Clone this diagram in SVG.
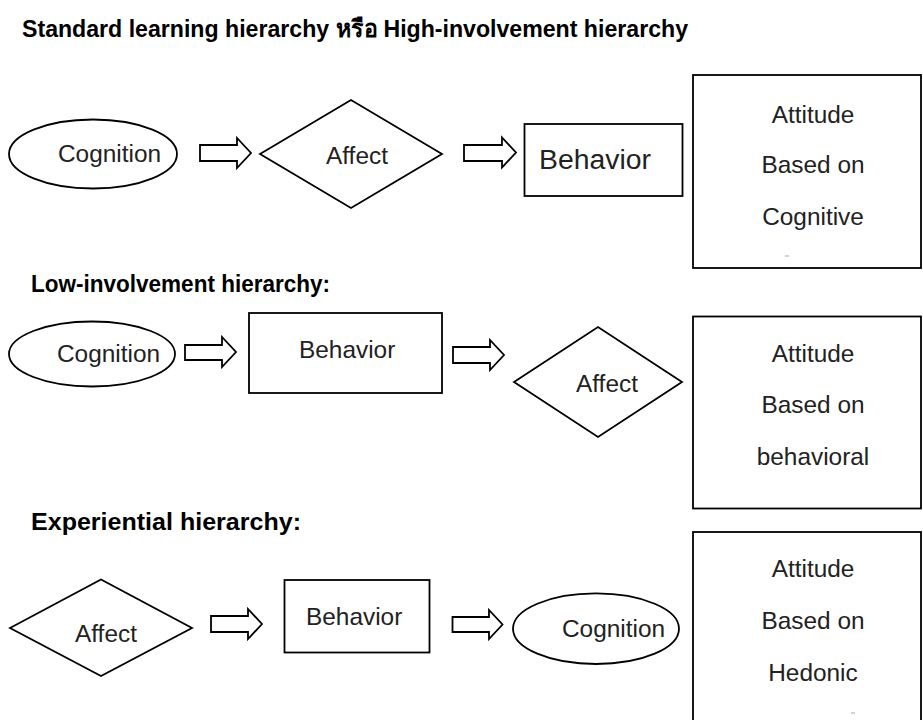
<svg xmlns="http://www.w3.org/2000/svg" width="923" height="720" viewBox="0 0 923 720">
  <style>
    .shape { fill: #ffffff; stroke: #000000; stroke-width: 1.8; }
    .arrow { fill: #ffffff; stroke: #000000; stroke-width: 1.8; stroke-linejoin: miter; }
    .head { font-family: "Liberation Sans", Arial, "Noto Sans", sans-serif; font-size: 24px; font-weight: bold; fill: #000000; }
    .lbl { font-family: "Liberation Sans", Arial, "Noto Sans", sans-serif; font-size: 24.4px; fill: #222222; }
    .mid { text-anchor: middle; }
    .speck { stroke: #aaaaaa; stroke-width: 1; }
  </style>
  <rect width="923" height="720" fill="#ffffff"/>

  <!-- section headings -->
  <g id="headings">
    <text class="head" x="22" y="37" textLength="666" lengthAdjust="spacingAndGlyphs">Standard learning hierarchy หรือ High-involvement hierarchy</text>
    <text class="head" x="31" y="292" textLength="299" lengthAdjust="spacingAndGlyphs">Low-involvement hierarchy:</text>
    <text class="head" x="31" y="530" textLength="270" lengthAdjust="spacingAndGlyphs">Experiential hierarchy:</text>
  </g>

  <!-- block arrows between steps -->
  <g id="connectors">
    <polygon class="arrow" points="200,145 237,145 237,138 251,153 237,168 237,161 200,161"/>
    <polygon class="arrow" points="464,145 502,145 502,137.5 516,152.5 502,167.5 502,161 464,161"/>
    <polygon class="arrow" points="185,345 222,345 222,337 236,352 222,367 222,360 185,360"/>
    <polygon class="arrow" points="453,347 490,347 490,340 504,355 490,370 490,363 453,363"/>
    <polygon class="arrow" points="211,616 248,616 248,609 262,624 248,639 248,632 211,632"/>
    <polygon class="arrow" points="452.5,617 489,617 489,610 502.5,624.5 489,639 489,632 452.5,632"/>
  </g>

  <!-- row 1: standard learning hierarchy -->
  <g id="r1-cognition">
    <ellipse class="shape" cx="93" cy="154" rx="84" ry="34.5"/>
    <text class="lbl" x="58" y="162">Cognition</text>
  </g>
  <g id="r1-affect">
    <polygon class="shape" points="260,154 351,100 442,154 351,208"/>
    <text class="lbl" x="326" y="164">Affect</text>
  </g>
  <g id="r1-behavior">
    <rect class="shape" x="524.5" y="124" width="158" height="72"/>
    <text class="lbl" x="539" y="169" style="font-size:27px" textLength="112" lengthAdjust="spacingAndGlyphs">Behavior</text>
  </g>
  <g id="r1-attitude">
    <rect class="shape" x="693" y="75" width="228" height="193"/>
    <text class="lbl mid" x="813" y="123">Attitude</text>
    <text class="lbl mid" x="813" y="173">Based on</text>
    <text class="lbl mid" x="813" y="225">Cognitive</text>
    <line class="speck" x1="785" y1="256" x2="789" y2="256"/>
  </g>

  <!-- row 2: low-involvement hierarchy -->
  <g id="r2-cognition">
    <ellipse class="shape" cx="92" cy="354" rx="83" ry="32.5"/>
    <text class="lbl" x="57" y="362">Cognition</text>
  </g>
  <g id="r2-behavior">
    <rect class="shape" x="249" y="313" width="193" height="80"/>
    <text class="lbl" x="299" y="358">Behavior</text>
  </g>
  <g id="r2-affect">
    <polygon class="shape" points="514,382 598,327 682,382 598,437"/>
    <text class="lbl" x="576" y="392">Affect</text>
  </g>
  <g id="r2-attitude">
    <rect class="shape" x="693" y="316.5" width="228" height="192"/>
    <text class="lbl mid" x="813" y="362">Attitude</text>
    <text class="lbl mid" x="813" y="413">Based on</text>
    <text class="lbl mid" x="813" y="465">behavioral</text>
  </g>

  <!-- row 3: experiential hierarchy -->
  <g id="r3-affect">
    <polygon class="shape" points="10,628 101,579.5 192,628 101,676"/>
    <text class="lbl" x="75" y="642">Affect</text>
  </g>
  <g id="r3-behavior">
    <rect class="shape" x="284.5" y="580" width="145" height="72.5"/>
    <text class="lbl" x="306" y="625">Behavior</text>
  </g>
  <g id="r3-cognition">
    <ellipse class="shape" cx="596" cy="628.7" rx="83" ry="35.3"/>
    <text class="lbl" x="562" y="637">Cognition</text>
  </g>
  <g id="r3-attitude">
    <rect class="shape" x="693" y="532" width="228" height="200"/>
    <text class="lbl mid" x="813" y="577">Attitude</text>
    <text class="lbl mid" x="813" y="629">Based on</text>
    <text class="lbl mid" x="813" y="681">Hedonic</text>
    <line class="speck" x1="851" y1="713" x2="855" y2="713"/>
  </g>
</svg>
